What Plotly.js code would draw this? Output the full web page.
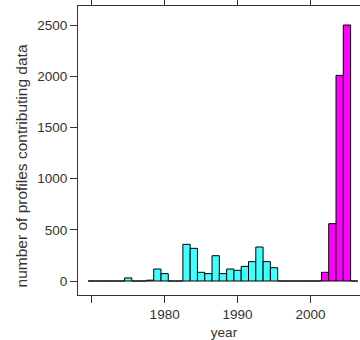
<!DOCTYPE html>
<html>
<head>
<meta charset="utf-8">
<script src="https://cdn.plot.ly/plotly-3.0.1.min.js"></script>
<style>
html, body { margin: 0; padding: 0; overflow: hidden; background: #fff; }
#chart { width: 380px; height: 340px; }
</style>
</head>
<body>
<div id="chart"></div>
<script>
// Early (cyan) profile counts by year
var earlyYears  = [1975, 1978, 1979, 1980, 1983, 1984, 1985, 1986, 1987, 1988, 1989, 1990, 1991, 1992, 1993, 1994, 1995];
var earlyCounts = [30, 8, 117, 72, 358, 319, 85, 72, 247, 72, 117, 104, 143, 189, 332, 189, 130];
// Recent (magenta) profile counts by year
var recentYears  = [2002, 2003, 2004, 2005];
var recentCounts = [85, 560, 2008, 2500];
// Years with no profiles
var emptyYears  = [1970, 1971, 1972, 1973, 1974, 1976, 1977, 1981, 1982, 1996, 1997, 1998, 1999, 2000, 2001, 2006];
var emptyCounts = [0, 0, 0, 0, 0, 0, 0, 0, 0, 0, 0, 0, 0, 0, 0, 0];
// Axis ticks
var xTickVals = [1970, 1980, 1990, 2000];
var xTickText = ["", "1980", "1990", "2000"];
var yTickVals = [0, 500, 1000, 1500, 2000, 2500];
var yTitle = "number of profiles contributing data";
var xTitle = "year";

var outline = {color: "#000000", width: 1};

var traces = [
  {type: "bar", x: emptyYears, y: emptyCounts, width: 1,
   marker: {color: "#ffffff", line: outline}, hoverinfo: "skip"},
  {type: "bar", x: earlyYears, y: earlyCounts, width: 1,
   marker: {color: "#40ffff", line: outline}},
  {type: "bar", x: recentYears, y: recentCounts, width: 1,
   marker: {color: "#ff00ff", line: outline}}
];

var fam = "Liberation Sans, Arial, sans-serif";
var axisFont = {family: fam, size: 13.5, color: "#333333"};

var layout = {
  width: 380, height: 340,
  margin: {l: 78, r: 10, t: 6, b: 45},
  paper_bgcolor: "#ffffff", plot_bgcolor: "#ffffff",
  showlegend: false,
  barmode: "overlay",
  bargap: 0,
  xaxis: {
    range: [1968.12, 2008.16],
    tickmode: "array", tickvals: xTickVals, ticktext: xTickText,
    ticks: "outside", ticklen: 7, tickwidth: 1, tickcolor: "#333333",
    showline: true, linecolor: "#333333", linewidth: 1, mirror: "ticks",
    showgrid: false, zeroline: false,
    tickfont: axisFont,
    title: {text: xTitle, font: {family: fam, size: 13.5, color: "#333333"}, standoff: 6},
    automargin: false
  },
  yaxis: {
    range: [-136.7, 2685.5],
    tickmode: "array", tickvals: yTickVals,
    ticks: "outside", ticklen: 7, tickwidth: 1, tickcolor: "#333333",
    showline: true, linecolor: "#333333", linewidth: 1, mirror: "ticks",
    showgrid: false, zeroline: false,
    tickfont: axisFont,
    automargin: false
  },
  annotations: [{
    text: yTitle, textangle: -90,
    xref: "paper", yref: "paper", x: -0.195, y: 0.445,
    xanchor: "center", yanchor: "middle", showarrow: false,
    font: {family: fam, size: 15.5, color: "#333333"}
  }]
};

Plotly.newPlot("chart", traces, layout, {staticPlot: true, displayModeBar: false});
</script>
</body>
</html>
